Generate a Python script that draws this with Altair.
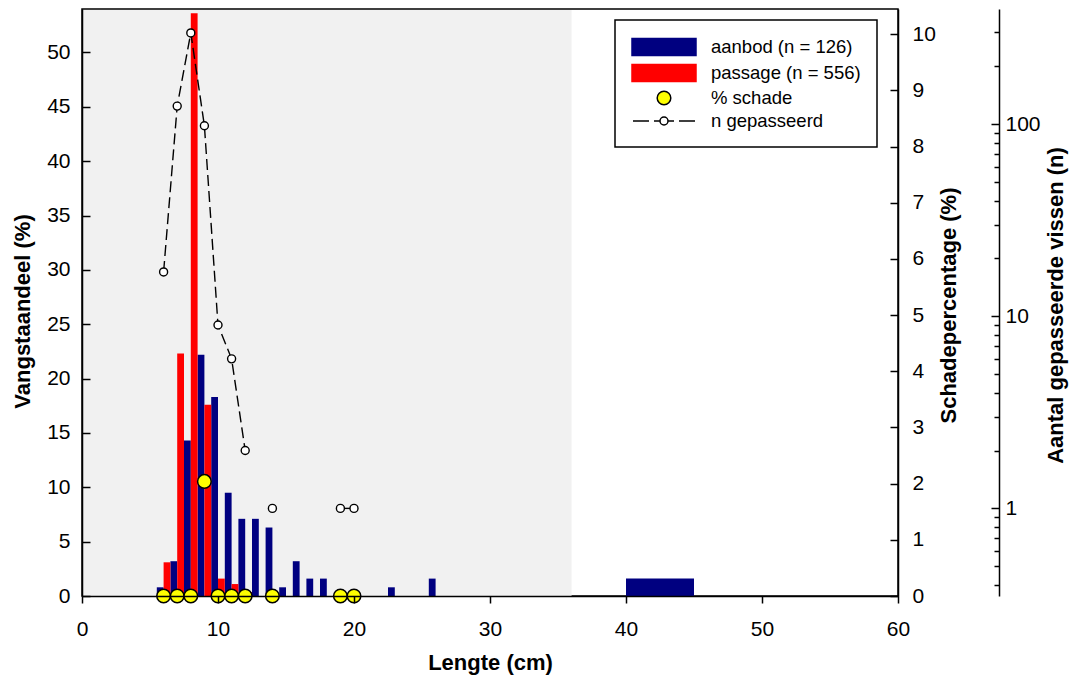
import altair as alt
import pandas as pd

# ---------------- data ----------------
aanbod_lengte = [6, 7, 8, 9, 10, 11, 12, 13, 14, 15, 16, 17, 18, 23, 26]
aanbod_pct = [0.8, 3.2, 14.3, 22.2, 18.3, 9.5, 7.1, 7.1, 6.3, 0.8, 3.2, 1.6, 1.6, 0.8, 1.6]
aanbod_brede_klasse = [40, 45]
aanbod_brede_pct = 1.6

passage_lengte = [6, 7, 8, 9, 10, 11, 12, 14, 19, 20]
passage_pct = [3.1, 22.3, 53.6, 17.6, 1.6, 1.1, 0.36, 0.18, 0.18, 0.18]
schade_pct = [0, 0, 0, 2.04, 0, 0, 0, 0, 0, 0]
n_gepasseerd = [17, 124, 298, 98, 9, 6, 2, 1, 1, 1]
n_reeks = [1, 1, 1, 1, 1, 1, 1, 2, 3, 3]

grijs_gebied = [0, 36]

lengte_ticks = [0, 10, 20, 30, 40, 50, 60]
vangst_ticks = [0, 5, 10, 15, 20, 25, 30, 35, 40, 45, 50]
schade_ticks = [0, 1, 2, 3, 4, 5, 6, 7, 8, 9, 10]
n_ticks = [1, 10, 100]
n_minor_ticks = [0.4, 0.5, 0.6, 0.7, 0.8, 0.9, 2, 3, 4, 5, 6, 7, 8, 9,
                 20, 30, 40, 50, 60, 70, 80, 90, 200, 300, 400]

legend_labels = ["aanbod (n = 126)", "passage (n = 556)", "% schade", "n gepasseerd"]

# ---------------- tables ----------------
aanbod_df = pd.DataFrame({
    "van": [l - 0.5 for l in aanbod_lengte] + [aanbod_brede_klasse[0]],
    "tot": list(aanbod_lengte) + [aanbod_brede_klasse[1]],
    "pct": aanbod_pct + [aanbod_brede_pct],
})
passage_df = pd.DataFrame({
    "lengte": passage_lengte,
    "van": passage_lengte,
    "tot": [l + 0.5 for l in passage_lengte],
    "pct": passage_pct,
    "schade": schade_pct,
    "n": n_gepasseerd,
    "reeks_nr": n_reeks,
    "reeks": ["% schade"] * len(passage_lengte),
})
bg_df = pd.DataFrame({"van": [grijs_gebied[0]], "tot": [grijs_gebied[1]]})

# ---------------- styling ----------------
W, H = 816, 587
FONT = "Liberation Sans"
NAVY, RED, YELLOW = "#000080", "#ff0000", "#ffff00"

x_scale = alt.Scale(domain=[0, 60], nice=False, zero=False)
x_axis = alt.Axis(values=lengte_ticks, title="Lengte (cm)", tickSize=7, labelPadding=15,
                  labelFlush=False,
                  titleX=W / 2, titleY=66, titleBaseline="middle", titleAlign="center",
                  zindex=1, format="d")

vangst_scale = alt.Scale(domain=[0, 54], nice=False, zero=False)
vangst_axis = alt.Axis(values=vangst_ticks, title="Vangstaandeel (%)", orient="left",
                       tickSize=alt.ExprRef(expr="-8"), labelPadding=20, labelFlush=False,
                       titleX=-60, titleY=302, titleAngle=270, titleBaseline="middle",
                       titleAlign="center", zindex=1, format="d")

schade_scale = alt.Scale(domain=[0, 10.45], nice=False, zero=False)
schade_axis = alt.Axis(values=schade_ticks, title="Schadepercentage (%)", orient="right",
                       tickSize=alt.ExprRef(expr="-8"), labelPadding=22, labelFlush=False,
                       titleX=50, titleY=296, titleAngle=270, titleBaseline="middle",
                       titleAlign="center", zindex=1, format="d")

n_scale = alt.Scale(type="log", domain=[0.35, 397], nice=False)
n_axis = alt.Axis(values=n_ticks, title="Aantal gepasseerde vissen (n)", orient="right",
                  offset=101, tickSize=alt.ExprRef(expr="-8"), labelPadding=14, labelFlush=False,
                  titleX=56, titleY=296, titleAngle=270, titleBaseline="middle",
                  titleAlign="center", zindex=1, format="d")
n_minor_axis = alt.Axis(values=n_minor_ticks, title=None, orient="right", offset=101,
                        tickSize=alt.ExprRef(expr="-5"), labels=False, domain=False, zindex=1)

# legend symbols (custom paths, unit = 10 px at size 400)
swatch = "M-3.2,-0.85H3.2V0.85H-3.2Z"
circle_big = "M0.68,0A0.68,0.68,0,1,1,-0.68,0A0.68,0.68,0,1,1,0.68,0Z"
n_symbol = ("M-3.1,0H-1.5M-1.0,0H-0.4M0.4,0H1.0M1.5,0H3.1"
            "M0.4,0A0.4,0.4,0,1,1,-0.4,0A0.4,0.4,0,1,1,0.4,0Z")

legend = alt.Legend(orient="none", legendX=533, legendY=11, title=None,
                    symbolSize=400, symbolStrokeWidth=1.5, symbolOffset=22,
                    symbolOpacity=1, labelOffset=36, labelFont=FONT, labelFontSize=18.5,
                    labelColor="black", labelLimit=400, rowPadding=2, padding=16,
                    labelExpr="datum.label + '\u00a0\u00a0'",
                    strokeColor="black", fillColor="white")

# ---------------- layers ----------------
bg = alt.Chart(bg_df).mark_rect(color="#f1f1f1").encode(
    x=alt.X("van:Q", scale=x_scale, axis=x_axis),
    x2="tot:Q",
    y=alt.value(1),
    y2=alt.value(H),
)

blue = alt.Chart(aanbod_df).mark_rect(color=NAVY).encode(
    x=alt.X("van:Q", scale=x_scale, axis=x_axis),
    x2="tot:Q",
    y=alt.Y("pct:Q", scale=vangst_scale, axis=vangst_axis),
    y2=alt.datum(0),
)

red = alt.Chart(passage_df).mark_rect(color=RED).encode(
    x=alt.X("van:Q", scale=x_scale, axis=x_axis),
    x2="tot:Q",
    y=alt.Y("pct:Q", scale=vangst_scale, axis=None),
    y2=alt.datum(0),
)

nline = alt.Chart(passage_df).mark_line(color="black", strokeDash=[11, 5], strokeWidth=1.4).encode(
    x=alt.X("lengte:Q", scale=x_scale, axis=x_axis),
    y=alt.Y("n:Q", scale=n_scale, axis=n_axis),
    detail="reeks_nr:N",
)

npts = alt.Chart(passage_df).mark_point(shape="circle", size=64, filled=True, fill="white",
                                        stroke="black", strokeWidth=1.4, opacity=1).encode(
    x=alt.X("lengte:Q", scale=x_scale, axis=x_axis),
    y=alt.Y("n:Q", scale=n_scale, axis=n_minor_axis),
)

dots = alt.Chart(passage_df).mark_point(filled=True, size=400, strokeWidth=1.5, opacity=1).encode(
    x=alt.X("lengte:Q", scale=x_scale, axis=x_axis),
    y=alt.Y("schade:Q", scale=schade_scale, axis=schade_axis),
    fill=alt.Fill("reeks:N", scale=alt.Scale(domain=legend_labels,
                                            range=[NAVY, RED, YELLOW, "white"]), legend=legend),
    stroke=alt.Stroke("reeks:N", scale=alt.Scale(domain=legend_labels,
                                                range=[NAVY, RED, "black", "black"]), legend=legend),
    shape=alt.Shape("reeks:N", scale=alt.Scale(domain=legend_labels,
                                              range=[swatch, swatch, circle_big, n_symbol]), legend=legend),
)

chart = (
    alt.layer(bg, blue, red, nline, npts, dots)
    .resolve_scale(y="independent")
    .properties(width=W, height=H,
                padding={"left": 82, "top": 9, "right": 178, "bottom": 79},
                autosize=alt.AutoSizeParams(type="none"))
    .configure_view(stroke="black", strokeWidth=1.5)
    .configure_axis(domainColor="black", tickColor="black", labelColor="black",
                    titleColor="black", labelFont=FONT, titleFont=FONT,
                    labelFontSize=21, titleFontSize=22, titleFontWeight="bold",
                    domainWidth=1.5, tickWidth=1.5, grid=False)
    .configure_legend(strokeWidth=1.5)
)

chart.save("out.html", embed_options={"renderer": "svg", "actions": False})
